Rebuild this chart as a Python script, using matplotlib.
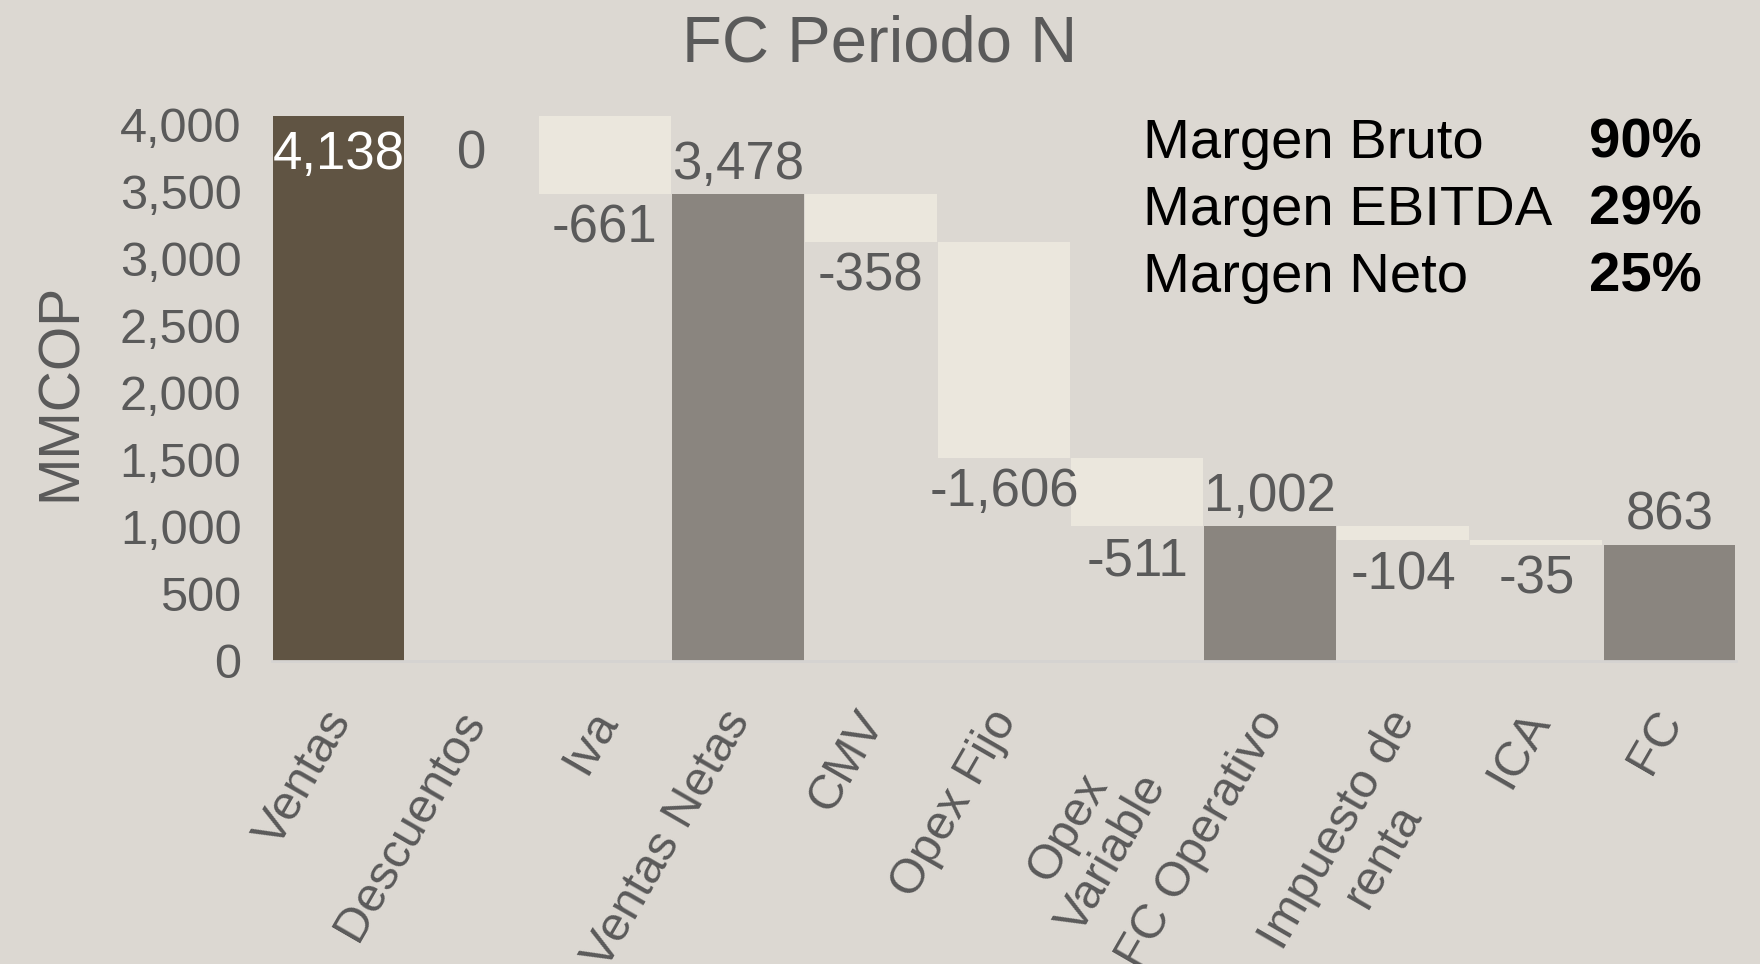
"""
    Cascada del flujo de caja - FC Periodo N
"""

import matplotlib
matplotlib.use("Agg")
import matplotlib.pyplot as plt
from matplotlib.ticker import FuncFormatter
from matplotlib.transforms import ScaledTranslation

# datos (MMCOP)
categorias = ["Ventas", "Descuentos", "Iva", "Ventas Netas", "CMV", "Opex Fijo",
              "Opex\nVariable", "FC Operativo", "Impuesto de\nrenta", "ICA", "FC"]
valores = [4138, 0, -661, 3478, -358, -1606, -511, 1002, -104, -35, 863]
es_total = [True, False, False, True, False, False, False, True, False, False, True]

margenes = ["Margen Bruto", "Margen EBITDA", "Margen Neto"]
margenes_pct = [90, 29, 25]

FONDO = "#dcd8d2"
GRIS_TXT = "#5a5a5a"
C_VENTAS = "#605443"
C_TOTAL = "#8a857f"
C_DELTA = "#ebe7dd"
Y_MAX = 4060

plt.rcParams['font.family'] = ['Liberation Sans', 'DejaVu Sans']

fig = plt.figure(figsize=(17.6, 9.64), dpi=100, facecolor=FONDO)
ax = fig.add_axes([272 / 1760, 1 - 661 / 964, 1464 / 1760, 545 / 964])
ax.set_facecolor(FONDO)

# construcción de la cascada
nivel = 0
for i, (v, tot) in enumerate(zip(valores, es_total)):
    if tot:
        base, alto = 0, v
        color = C_VENTAS if i == 0 else C_TOTAL
        nivel = v
    else:
        base, alto = nivel + min(v, 0), abs(v)
        color = C_DELTA
        nivel = nivel + v
    ax.bar(i, alto, bottom=base, width=0.99, color=color, linewidth=0)

    etiqueta = f"{v:,}"
    if tot and base + alto > Y_MAX:  # etiqueta dentro de la barra
        ax.annotate(etiqueta, (i, Y_MAX), xytext=(0, -28), textcoords="offset points",
                    ha="center", va="center", fontsize=38, color="white")
    elif tot:
        ax.annotate(etiqueta, (i, base + alto), xytext=(0, 21), textcoords="offset points",
                    ha="center", va="center", fontsize=38, color=GRIS_TXT)
    elif base > Y_MAX:  # barra fuera del eje
        ax.annotate(etiqueta, (i, Y_MAX), xytext=(0, -28), textcoords="offset points",
                    ha="center", va="center", fontsize=38, color=GRIS_TXT)
    else:
        ax.annotate(etiqueta, (i, base), xytext=(0, -25), textcoords="offset points",
                    ha="center", va="center", fontsize=38, color=GRIS_TXT)

ax.set_xlim(-0.5, len(categorias) - 0.5)
ax.set_ylim(0, Y_MAX)
ax.set_yticks(range(0, 4001, 500))
ax.yaxis.set_major_formatter(FuncFormatter(lambda x, p: f"{int(x):,}"))
ax.set_xticks(range(len(categorias)))
ax.set_xticklabels(categorias, rotation=60, ha="right", va="top", rotation_mode="anchor",
                   multialignment="center")
ax.tick_params(axis="y", length=0, pad=22, labelsize=35, labelcolor=GRIS_TXT)
ax.tick_params(axis="x", length=0, pad=30, labelsize=35, labelcolor=GRIS_TXT)
for lab in ax.get_xticklabels():
    dx, dy = -0.17, 0
    if lab.get_text() == "Opex\nVariable":  # en el original esta etiqueta cae más abajo
        dx, dy = -0.45, -0.38
    lab.set_transform(lab.get_transform() + ScaledTranslation(dx, dy, fig.dpi_scale_trans))
for s in ["top", "right", "left"]:
    ax.spines[s].set_visible(False)
ax.spines["bottom"].set_color("#d5d3d1")
ax.spines["bottom"].set_linewidth(2)

fig.text(0.5, 1 - 45 / 964, "FC Periodo N", ha="center", va="center", fontsize=47, color=GRIS_TXT)
fig.text(61 / 1760, 1 - 392 / 964, "MMCOP", rotation=90, ha="center", va="center",
         fontsize=41, color=GRIS_TXT)

# cuadro de márgenes
for k, (nom, pct) in enumerate(zip(margenes, margenes_pct)):
    y = 1 - (157.5 + 67 * k) / 964
    fig.text(1143 / 1760, y, nom, ha="left", va="baseline", fontsize=40.5, color="black")
    fig.text(1702 / 1760, y, f"{pct}%", ha="right", va="baseline", fontsize=40.5,
             color="black", fontweight="bold")

fig.savefig("out.png", dpi=100, facecolor=FONDO)
